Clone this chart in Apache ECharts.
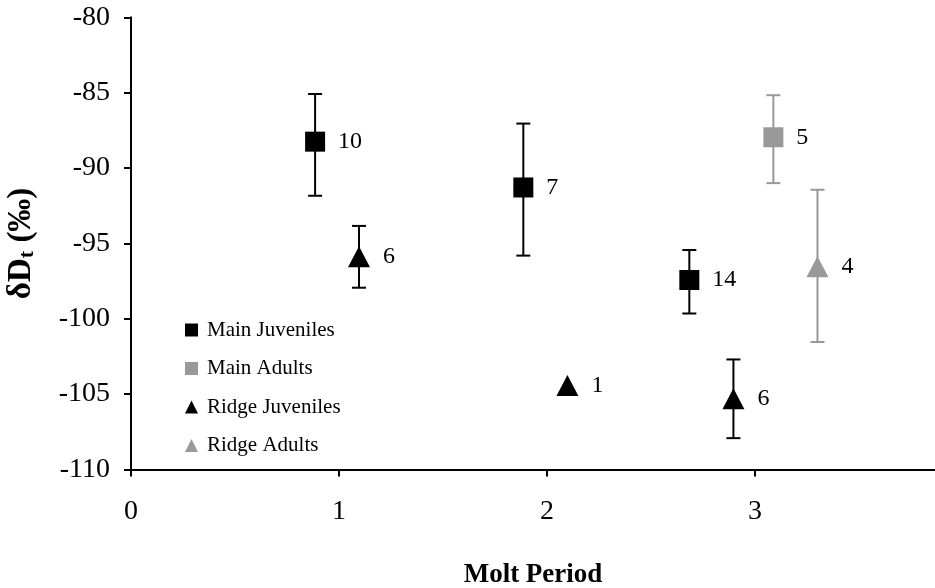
<!DOCTYPE html>
<html>
<head>
<meta charset="utf-8">
<script src="https://cdn.jsdelivr.net/npm/echarts@6/dist/echarts.min.js"></script>
<style>html,body{margin:0;padding:0;background:#fff}#c{width:935px;height:588px}</style>
</head>
<body>
<div id="c"></div>
<script>
// ---- data ----
var seriesNames = ['Main Juveniles', 'Main Adults', 'Ridge Juveniles', 'Ridge Adults'];

var mainJuvX = [0.885, 1.886, 2.684];
var mainJuvY = [-88.25, -91.29, -97.43];
var mainJuvHigh = [-85.09, -87.05, -95.44];
var mainJuvLow = [-91.84, -95.81, -99.65];
var mainJuvN = ['10', '7', '14'];

var mainAdX = [3.088];
var mainAdY = [-87.96];
var mainAdHigh = [-85.17];
var mainAdLow = [-91.0];
var mainAdN = ['5'];

var ridgeJuvX = [1.096, 2.098, 2.896];
var ridgeJuvY = [-95.88, -104.42, -105.30];
var ridgeJuvHigh = [-93.84, null, -102.7];
var ridgeJuvLow = [-97.94, null, -107.92];
var ridgeJuvN = ['6', '1', '6'];

var ridgeAdX = [3.30];
var ridgeAdY = [-96.55];
var ridgeAdHigh = [-91.44];
var ridgeAdLow = [-101.54];
var ridgeAdN = ['4'];

var xTicks = [0, 1, 2, 3];
var yTicks = [-110, -105, -100, -95, -90, -85, -80];

// ---- build ----
var FONT = 'Liberation Serif, Times New Roman, serif';
var BLACK = '#000000';
var GRAY = '#999999';

function pts(xs, ys) { return xs.map(function (x, i) { return [x, ys[i]]; }); }
function errs(xs, lo, hi) {
  var out = [];
  xs.forEach(function (x, i) { if (lo[i] != null && hi[i] != null) out.push([x, lo[i], hi[i]]); });
  return out;
}
function errSeries(data, color) {
  return {
    type: 'custom', silent: true, z: 1,
    renderItem: function (params, api) {
      var x = api.value(0);
      var pl = api.coord([x, api.value(1)]);
      var ph = api.coord([x, api.value(2)]);
      var cw = 7;
      var st = { stroke: color, lineWidth: 2 };
      return {
        type: 'group', children: [
          { type: 'line', shape: { x1: pl[0], y1: pl[1], x2: ph[0], y2: ph[1] }, style: st },
          { type: 'line', shape: { x1: pl[0] - cw, y1: pl[1], x2: pl[0] + cw, y2: pl[1] }, style: st },
          { type: 'line', shape: { x1: ph[0] - cw, y1: ph[1], x2: ph[0] + cw, y2: ph[1] }, style: st }
        ]
      };
    },
    data: data
  };
}
function scatter(name, data, labels, symbol, color) {
  return {
    name: name, type: 'scatter', z: 3,
    symbol: symbol, symbolSize: symbol === 'rect' ? 20 : [22, 21],
    itemStyle: { color: color, opacity: 1 },
    label: {
      show: true, position: 'right', distance: 13,
      formatter: function (p) { return labels[p.dataIndex]; },
      fontFamily: FONT, fontSize: 24, color: BLACK
    },
    emphasis: { disabled: true },
    data: data
  };
}

var chart = echarts.init(document.getElementById('c'));
chart.setOption({
  animation: false,
  backgroundColor: '#ffffff',
  grid: { left: 131, right: 0, top: 17.3, bottom: 118.5, containLabel: false, outerBoundsMode: 'none' },
  legend: {
    orient: 'vertical', left: 185, top: 319.5, padding: 0,
    itemWidth: 13, itemHeight: 13, itemGap: 17.5,
    textStyle: { fontFamily: FONT, fontSize: 21, color: BLACK, lineHeight: 21, padding: [0, 0, 0, 4] },
    data: [
      { name: seriesNames[0], icon: 'rect', itemStyle: { color: BLACK } },
      { name: seriesNames[1], icon: 'rect', itemStyle: { color: GRAY } },
      { name: seriesNames[2], icon: 'triangle', itemStyle: { color: BLACK } },
      { name: seriesNames[3], icon: 'triangle', itemStyle: { color: GRAY } }
    ]
  },
  xAxis: {
    type: 'value', min: 0, max: 3.865, interval: 1,
    name: 'Molt Period', nameLocation: 'middle', nameGap: 92,
    nameTextStyle: { fontFamily: FONT, fontSize: 27, fontWeight: 'bold', color: BLACK },
    axisLine: { show: true, onZero: false, lineStyle: { color: BLACK, width: 2 } },
    axisTick: { show: true, length: 7, lineStyle: { color: BLACK, width: 2 },
      customValues: xTicks },
    axisLabel: { fontFamily: FONT, fontSize: 28, color: BLACK, margin: 28,
      customValues: xTicks,
      formatter: function (v) { return xTicks.indexOf(v) >= 0 ? String(v) : ''; } },
    splitLine: { show: false }
  },
  yAxis: {
    type: 'value', min: -110, max: -80, interval: 5,
    name: '{a|δD}{s|t}{a| (‰)}', nameLocation: 'middle', nameGap: 93, nameRotate: 90,
    nameTextStyle: {
      rich: {
        a: { fontFamily: FONT, fontSize: 33, fontWeight: 'bold', color: BLACK },
        s: { fontFamily: FONT, fontSize: 22, fontWeight: 'bold', color: BLACK, padding: [12, 0, 0, 0] }
      }
    },
    axisLine: { show: true, onZero: false, lineStyle: { color: BLACK, width: 2 } },
    axisTick: { show: true, length: 7, lineStyle: { color: BLACK, width: 2 } },
    axisLabel: { fontFamily: FONT, fontSize: 28, color: BLACK, margin: 21,
      formatter: function (v) { return yTicks.indexOf(v) >= 0 ? String(v) : ''; } },
    splitLine: { show: false }
  },
  series: [
    errSeries(errs(mainJuvX, mainJuvLow, mainJuvHigh), BLACK),
    errSeries(errs(mainAdX, mainAdLow, mainAdHigh), GRAY),
    errSeries(errs(ridgeJuvX, ridgeJuvLow, ridgeJuvHigh), BLACK),
    errSeries(errs(ridgeAdX, ridgeAdLow, ridgeAdHigh), GRAY),
    scatter(seriesNames[0], pts(mainJuvX, mainJuvY), mainJuvN, 'rect', BLACK),
    scatter(seriesNames[1], pts(mainAdX, mainAdY), mainAdN, 'rect', GRAY),
    scatter(seriesNames[2], pts(ridgeJuvX, ridgeJuvY), ridgeJuvN, 'triangle', BLACK),
    scatter(seriesNames[3], pts(ridgeAdX, ridgeAdY), ridgeAdN, 'triangle', GRAY)
  ]
});
</script>
</body>
</html>
